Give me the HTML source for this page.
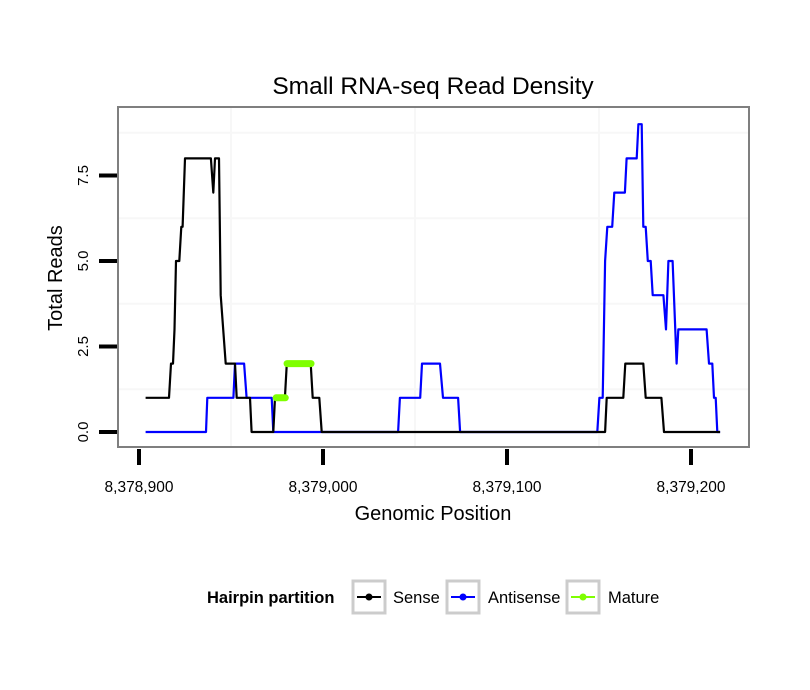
<!DOCTYPE html>
<html><head><meta charset="utf-8"><style>
html,body{margin:0;padding:0;background:#fff;}
svg{display:block;font-family:"Liberation Sans",sans-serif;}
</style></head><body>
<svg id="chart" width="810" height="690" viewBox="0 0 810 690">
<text x="433" y="94" text-anchor="middle" font-size="24.5" fill="#000">Small RNA-seq Read Density</text>
<rect x="118" y="107" width="631" height="340" fill="#fff" stroke="#7f7f7f" stroke-width="2"/>
<g id="grid"></g>
<g id="series"></g>
<g id="axes"></g>
<text transform="translate(62,278) rotate(-90)" text-anchor="middle" font-size="20">Total Reads</text>
<text x="433" y="520" text-anchor="middle" font-size="20">Genomic Position</text>
<g>
<text x="207" y="603" font-size="16.5" font-weight="bold">Hairpin partition</text>
<g>
<rect x="353" y="581" width="32" height="32" fill="#fff" stroke="#cccccc" stroke-width="3"/>
<line x1="357" y1="597" x2="381" y2="597" stroke="#000" stroke-width="2"/><circle cx="369" cy="597" r="3.5" fill="#000"/>
<text x="393" y="603" font-size="16.5">Sense</text></g>
<g>
<rect x="447" y="581" width="32" height="32" fill="#fff" stroke="#cccccc" stroke-width="3"/>
<line x1="451" y1="597" x2="475" y2="597" stroke="#0000ff" stroke-width="2"/><circle cx="463" cy="597" r="3.5" fill="#0000ff"/>
<text x="488" y="603" font-size="16.5">Antisense</text></g>
<g>
<rect x="567" y="581" width="32" height="32" fill="#fff" stroke="#cccccc" stroke-width="3"/>
<line x1="571" y1="597" x2="595" y2="597" stroke="#7fff00" stroke-width="2"/><circle cx="583" cy="597" r="3.5" fill="#7fff00"/>
<text x="608" y="603" font-size="16.5">Mature</text></g>
</g>
</svg>
<script>
const BASE = 8378900;
const xTicks = [8378900, 8379000, 8379100, 8379200];
const xTickLabels = ["8,378,900", "8,379,000", "8,379,100", "8,379,200"];
const yTicks = [0, 2.5, 5, 7.5];
const yTickLabels = ["0.0", "2.5", "5.0", "7.5"];
const senseOffsets = [3.6,16.3,17.4,18.5,19.3,20.1,21.9,23,23.7,25,39.1,40.4,41.3,43.5,44.4,47.1,52.2,53.1,60.3,61.2,73,73.9,79.3,80.3,93.3,94.4,98,99.3,253.3,254.2,263.2,264.3,274.1,275.4,283.9,285.3,315.8];
const senseValues  = [1,1,2,2,3,5,5,6,6,8,8,7,8,8,4,2,2,1,1,0,0,1,1,2,2,1,1,0,0,1,1,2,2,1,1,0,0];
const antiOffsets = [3.6,36.4,37.1,51.3,52.2,57.1,58.5,72.1,73,140.8,141.8,152.8,153.8,163.6,165.2,173.4,174.5,249.1,250.2,252,253.3,254.5,257.2,258.3,264.1,265,270.5,271.4,273.2,274.1,275.4,276.5,278.1,279.2,285,286.4,287.7,290,292.2,293.1,308.5,309.8,311.6,312.5,313.4,314.3,315.8];
const antiValues  = [0,0,1,1,2,2,1,1,0,0,1,1,2,2,1,1,0,0,1,1,5,6,6,7,7,8,8,9,9,6,6,5,5,4,4,3,5,5,2,3,3,2,2,1,1,0,0];
const matureSeg1Offsets = [74.5, 79.5];
const matureSeg1Values = [1, 1];
const matureSeg2Offsets = [80.5, 93.5];
const matureSeg2Values = [2, 2];

const xs = p => 139 + (p - BASE) * 1.84;
const xo = o => 139 + o * 1.84;
const ys = v => 432 - v * 34.2;
const NS = "http://www.w3.org/2000/svg";
function mk(tag, attrs, parent){const e=document.createElementNS(NS,tag);for(const k in attrs)e.setAttribute(k,attrs[k]);parent.appendChild(e);return e;}
const grid=document.getElementById('grid'), axes=document.getElementById('axes'), series=document.getElementById('series');
[1.25,3.75,6.25,8.75].forEach(v=>{const l=mk('line',{x1:119,x2:748,y1:ys(v),y2:ys(v),stroke:'#f7f7f7','stroke-width':2},grid);

});
[8378950,8379050,8379150].forEach(p=>{const l=mk('line',{x1:xs(p),x2:xs(p),y1:108,y2:446,stroke:'#f7f7f7','stroke-width':2},grid);

});
yTicks.forEach((v,i)=>{const t=mk('line',{x1:99,x2:117,y1:ys(v),y2:ys(v),stroke:'#000','stroke-width':4},axes);


const tx=mk('text',{transform:`translate(88,${ys(v)}) rotate(-90)`,'text-anchor':'middle','font-size':15},axes);tx.textContent=yTickLabels[i];

});
xTicks.forEach((p,i)=>{const t=mk('line',{x1:xs(p),x2:xs(p),y1:449,y2:465,stroke:'#000','stroke-width':4},axes);


const tx=mk('text',{x:xs(p),y:492,'text-anchor':'middle','font-size':15.5},axes);tx.textContent=xTickLabels[i];

});
function path(offs,vals,color,w,name,cap){const d=offs.map((o,i)=>(i?'L':'M')+xo(o).toFixed(1)+','+ys(vals[i]).toFixed(1)).join(' ');
const p=mk('path',{d:d,fill:'none',stroke:color,'stroke-width':w,'stroke-linejoin':'round','stroke-linecap':cap||'butt'},series);

}
path(antiOffsets,antiValues,'#0000ff',2.2,'antisense-line');
path(senseOffsets,senseValues,'#000000',2.2,'sense-line');
path(matureSeg1Offsets,matureSeg1Values,'#7fff00',7,'mature-line-1','round');
path(matureSeg2Offsets,matureSeg2Values,'#7fff00',7,'mature-line-2','round');
</script>
</body></html>
